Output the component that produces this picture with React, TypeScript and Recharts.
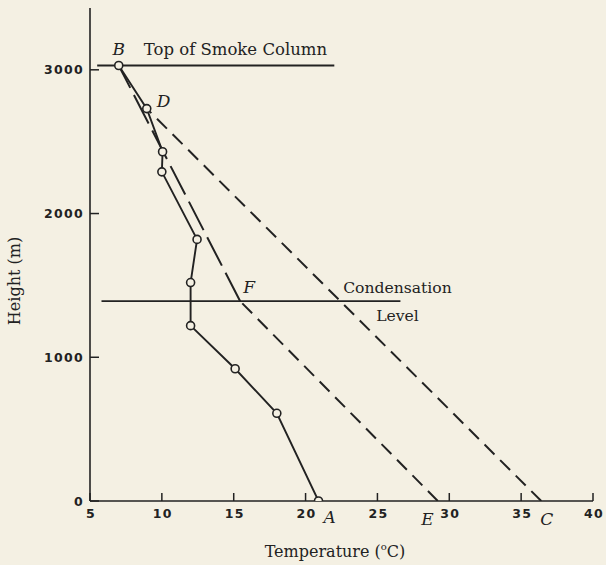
import { Line, LineChart, ReferenceDot, XAxis, YAxis } from 'recharts';

// observed temperature profile (circles), A at the ground up to B
const obsTemp = [20.9, 18.0, 15.1, 12.0, 12.0, 12.45, 10.0, 10.05, 8.95, 7.0];
const obsHeight = [0, 610, 920, 1220, 1520, 1820, 2290, 2430, 2730, 3030];

// dry adiabat C -> D
const dryTemp = [36.4, 8.95];
const dryHeight = [0, 2730];

// dry adiabat E -> F, then moist adiabat F -> B
const efTemp = [29.2, 15.45];
const efHeight = [0, 1390];
const fbTemp = [15.45, 7.0];
const fbHeight = [1390, 3030];

// horizontal reference levels
const condTemp = [5.8, 26.6];
const condHeight = [1390, 1390];
const smokeTemp = [5.5, 22.0];
const smokeHeight = [3030, 3030];

const xTicks = [5, 10, 15, 20, 25, 30, 35, 40];
const yTicks = [0, 1000, 2000, 3000];

// annotations anchored at data points
const noteText = ['B', 'Top of Smoke Column', 'D', 'F', 'Condensation', 'Level', 'A', 'E', 'C'];
const noteTemp = [7.0, 7.0, 8.95, 15.45, 15.45, 15.45, 20.9, 29.2, 36.4];
const noteHeight = [3030, 3030, 2730, 1390, 1390, 1390, 0, 0, 0];

const INK = '#222222';
const BG = '#f4f0e3';
const SERIF = '"DejaVu Serif", serif';
const SANS = '"DejaVu Sans", sans-serif';

const NOTE_STYLE: Record<string, { dx: number; dy: number; anchor: string; italic: boolean; size: number }> = {
  B: { dx: 0, dy: -10, anchor: 'middle', italic: true, size: 17 },
  'Top of Smoke Column': { dx: 25, dy: -10, anchor: 'start', italic: false, size: 16.5 },
  D: { dx: 10, dy: -2, anchor: 'start', italic: true, size: 17 },
  F: { dx: 3, dy: -8, anchor: 'start', italic: true, size: 17 },
  Condensation: { dx: 103, dy: -8, anchor: 'start', italic: false, size: 15.6 },
  Level: { dx: 136, dy: 20, anchor: 'start', italic: false, size: 15.6 },
  A: { dx: 5, dy: 22, anchor: 'start', italic: true, size: 17 },
  E: { dx: -4, dy: 24, anchor: 'end', italic: true, size: 17 },
  C: { dx: -1, dy: 24, anchor: 'start', italic: true, size: 17 },
};

const toRows = (t: number[], h: number[]) => t.map((v, i) => ({ t: v, h: h[i] }));

const XTick = (props: any) => {
  const { x, y, payload } = props;
  return (
    <g>
      <line x1={x} x2={x} y1={y} y2={y - 8} stroke={INK} strokeWidth={1.5} />
      <text x={x + 1} y={y + 17} textAnchor="middle" fontFamily={SANS} fontWeight={600} fontSize={12.5} letterSpacing={1.3} fill={INK}>
        {payload.value}
      </text>
    </g>
  );
};

const YTick = (props: any) => {
  const { x, y, payload } = props;
  return (
    <g>
      <line x1={x} x2={x + 9} y1={y} y2={y} stroke={INK} strokeWidth={1.5} />
      <text x={x - 6} y={y + 4.5} textAnchor="end" fontFamily={SANS} fontWeight={600} fontSize={12.5} letterSpacing={1.3} fill={INK}>
        {payload.value}
      </text>
    </g>
  );
};

export default function App() {
  const obs = toRows(obsTemp, obsHeight);
  const dry = toRows(dryTemp, dryHeight);
  const ef = toRows(efTemp, efHeight);
  const fb = toRows(fbTemp, fbHeight);
  const cond = toRows(condTemp, condHeight);
  const smoke = toRows(smokeTemp, smokeHeight);

  return (
    <div style={{ position: 'absolute', left: 0, top: 0, width: 606, height: 565, background: BG }}>
      <LineChart width={606} height={565} margin={{ top: 8, right: 13, bottom: 24, left: 30 }}>
        <XAxis
          type="number"
          dataKey="t"
          domain={[5, 40]}
          ticks={xTicks}
          height={40}
          tickSize={0}
          tickMargin={0}
          tickLine={false}
          axisLine={{ stroke: INK, strokeWidth: 1.6 }}
          tick={<XTick />}
          allowDataOverflow
          label={{
            content: ({ viewBox }: any) => (
              <text x={viewBox.x + 245} y={viewBox.y + 56} textAnchor="middle" fontFamily={SERIF} fontSize={16} fill={INK}>
                Temperature (
                <tspan fontSize={10} dy={-7}>o</tspan>
                <tspan dy={7}>C)</tspan>
              </text>
            ),
          }}
        />
        <YAxis
          type="number"
          domain={[0, 3430]}
          ticks={yTicks}
          width={60}
          tickSize={0}
          tickMargin={0}
          tickLine={false}
          axisLine={{ stroke: INK, strokeWidth: 1.6 }}
          tick={<YTick />}
          allowDataOverflow
          label={{
            content: ({ viewBox }: any) => (
              <text
                x={viewBox.x - 10}
                y={viewBox.y + 273}
                transform={`rotate(-90 ${viewBox.x - 10} ${viewBox.y + 273})`}
                textAnchor="middle"
                fontFamily={SERIF}
                fontSize={16}
                fill={INK}
              >
                Height (m)
              </text>
            ),
          }}
        />
        <Line data={cond} dataKey="h" stroke={INK} strokeWidth={1.8} dot={false} activeDot={false} isAnimationActive={false} />
        <Line data={smoke} dataKey="h" stroke={INK} strokeWidth={1.8} dot={false} activeDot={false} isAnimationActive={false} />
        <Line data={dry} dataKey="h" stroke={INK} strokeWidth={2} strokeDasharray="14 8" dot={false} activeDot={false} isAnimationActive={false} />
        <Line data={ef} dataKey="h" stroke={INK} strokeWidth={2} strokeDasharray="14 8" dot={false} activeDot={false} isAnimationActive={false} />
        <Line data={fb} dataKey="h" stroke={INK} strokeWidth={2} strokeDasharray="32 8" dot={false} activeDot={false} isAnimationActive={false} />
        <Line
          data={obs}
          dataKey="h"
          stroke={INK}
          strokeWidth={1.9}
          dot={{ r: 4, fill: BG, stroke: INK, strokeWidth: 1.6 }}
          activeDot={false}
          isAnimationActive={false}
        />
        {noteText.map((txt, i) => {
          const s = NOTE_STYLE[txt];
          return (
            <ReferenceDot
              key={txt}
              x={noteTemp[i]}
              y={noteHeight[i]}
              r={1}
              fill="none"
              stroke="none"
              ifOverflow="visible"
              label={{
                content: ({ viewBox }: any) => (
                  <text
                    x={viewBox.x + 1 + s.dx}
                    y={viewBox.y + 1 + s.dy}
                    textAnchor={s.anchor as any}
                    fontFamily={SERIF}
                    fontStyle={s.italic ? 'italic' : 'normal'}
                    fontSize={s.size}
                    fill={INK}
                  >
                    {txt}
                  </text>
                ),
              }}
            />
          );
        })}
      </LineChart>
    </div>
  );
}
